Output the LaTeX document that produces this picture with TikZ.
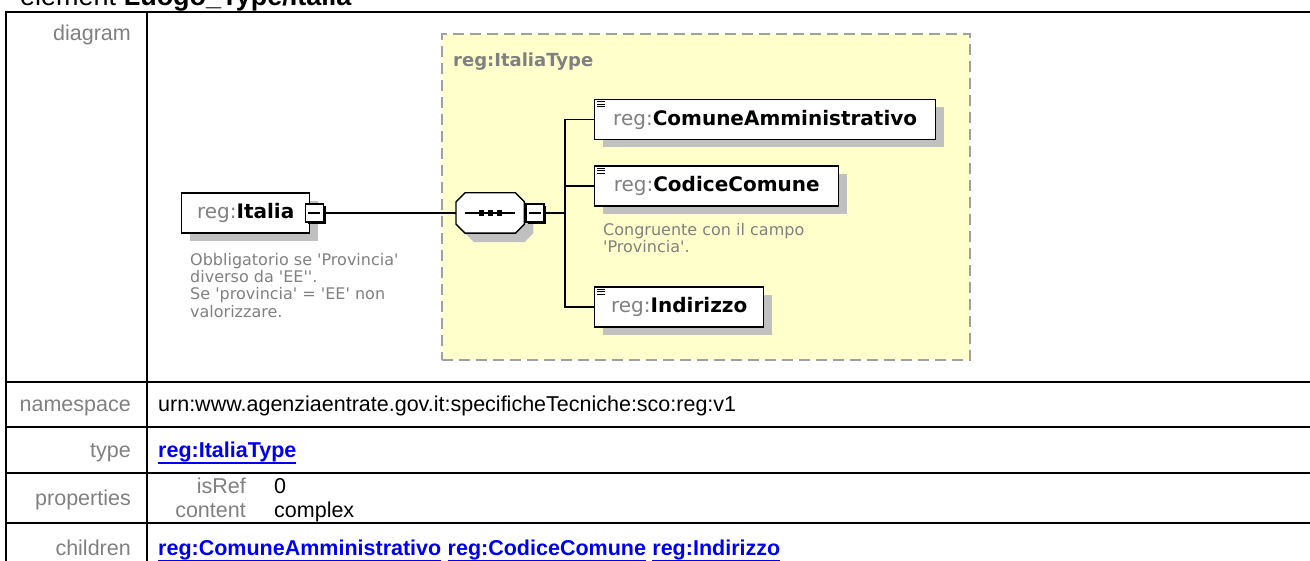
\documentclass[tikz,border=0pt]{standalone}
\usepackage{fontspec}
\setmainfont{Liberation Sans}
\newfontfamily\spyfont{DejaVu Sans}
\usetikzlibrary{positioning,shadows}

\definecolor{lblgray}{HTML}{808080}
\definecolor{linkblue}{HTML}{0000F0}
\definecolor{typefill}{HTML}{FFFFCC}
\definecolor{dashgray}{HTML}{A0A0A0}
\definecolor{shadegray}{HTML}{C0C0C0}

\newcommand\tabfont{\fontsize{21.5}{24}\selectfont}
\newcommand\spytext{\spyfont\fontsize{20}{24}\selectfont}
\newcommand\spynote{\spyfont\fontsize{16}{17.3}\selectfont}
\newcommand\regname[1]{\textcolor{lblgray}{reg:}\textbf{#1}}
\newcommand\linkul[1]{\setbox0\hbox{#1}\rlap{\rule[-6.2pt]{\wd0}{1.6pt}}\box0}
% octagon outline round a node
\newcommand\octpath[1]{([xshift=9pt]#1.north west) -- ([xshift=-9pt]#1.north east)
  -- ([yshift=-9pt]#1.north east) -- ([yshift=9pt]#1.south east)
  -- ([xshift=-9pt]#1.south east) -- ([xshift=9pt]#1.south west)
  -- ([yshift=9pt]#1.south west) -- ([yshift=-9pt]#1.north west) -- cycle}

\tikzset{
  grid line/.style={line width=2pt},
  rowlabel/.style={anchor=base east, inner sep=0pt, text=lblgray, font=\tabfont},
  rowtext/.style={anchor=base west, inner sep=0pt, font=\tabfont},
  rowlink/.style={rowtext, text=linkblue, font=\tabfont\bfseries},
  elembox/.style={draw, line width=1.4pt, fill=white, anchor=west,
    minimum height=40pt, inner xsep=4pt, font=\spytext,
    copy shadow={shadow xshift=8pt, shadow yshift=-8pt, draw=none, fill=shadegray}},
  collapse/.style={draw, line width=1.2pt, fill=white, minimum size=18pt, inner sep=0pt,
    copy shadow={shadow xshift=2.2pt, shadow yshift=-2.2pt, draw=none, fill=black}},
  seqbox/.style={minimum width=68pt, minimum height=40pt, inner sep=0pt, anchor=west},
  typebox/.style={draw=dashgray, line width=2pt, dash pattern=on 11pt off 6pt,
    fill=typefill, anchor=north west, inner sep=0pt},
  docnote/.style={anchor=north west, inner sep=0pt, align=left, text=lblgray, font=\spynote},
  wire/.style={line width=1.4pt},
  iconline/.style={line width=0.9pt},
}

\begin{document}
\begin{tikzpicture}[x=1pt, y=-1pt]
\useasboundingbox (0,0) rectangle (1310,561);
\clip (0,0) rectangle (1310,561);

% heading, cut by the page top
\node[anchor=base west, inner sep=0pt, font=\fontsize{27}{29}\selectfont] (heading)
  at (20,6) {element \textbf{Luogo\_Type/Italia}};

% table rules
\draw[grid line] (6,580) -- (6,12) -- (1320,12);
\draw[grid line] (147,12) -- (147,580);
\foreach \yy in {382,427,473,523}
  \draw[grid line] (6,\yy) -- (1320,\yy);

% left column
\node[rowlabel] (lbl-diagram) at (131,41) {diagram};
\node[rowlabel] (lbl-ns) at (131,412) {namespace};
\node[rowlabel] (lbl-type) at (131,457.5) {type};
\node[rowlabel] (lbl-props) at (131,505.5) {properties};
\node[rowlabel] (lbl-children) at (131,555.5) {children};

% right column
\node[rowtext] (ns) at (158,412) {urn:www.agenziaentrate.gov.it:specificheTecniche:sco:reg:v1};
\node[rowlink] (type) at (158,457.5) {\linkul{reg:ItaliaType}};
\node[rowlabel] (isref-k) at (246,493.5) {isRef};
\node[rowtext] (isref-v) at (274,493.5) {0};
\node[rowlabel] (content-k) at (246,517.5) {content};
\node[rowtext] (content-v) at (274,517.5) {complex};
\node[rowlink] (child-1) at (158,555.5) {\linkul{reg:ComuneAmministrativo}};
\node[rowlink, right=6pt of child-1.base east, anchor=base west] (child-2) {\linkul{reg:CodiceComune}};
\node[rowlink, right=6pt of child-2.base east, anchor=base west] (child-3) {\linkul{reg:Indirizzo}};

% type container
\node[typebox, minimum width=528pt, minimum height=326pt] (italia-type) at (441,33) {};
\node[anchor=west, inner sep=0pt, text=lblgray, font=\spyfont\fontsize{18}{20}\selectfont\bfseries]
  (italia-type-lbl) at (453,62) {reg:ItaliaType};

% elements
\node[elembox, minimum width=128pt] (italia) at (181,213) {\regname{Italia}};
\node[collapse] (italia-m) at ([xshift=4pt]italia.east) {\rule{12pt}{1.6pt}};
\node[docnote] (italia-doc) at (190,253)
  {Obbligatorio se 'Provincia'\\diverso da 'EE''.\\Se 'provincia' = 'EE' non\\valorizzare.};

\node[seqbox] (seq) at (456,213) {};
\fill[shadegray, transform canvas={shift={(9pt,-9pt)}}] \octpath{seq};
\filldraw[fill=white, line width=1.4pt] \octpath{seq};
\node[collapse, anchor=west] (seq-m) at ([xshift=1pt]seq.east) {\rule{12pt}{1.6pt}};
\coordinate (fork) at (565,213);

\node[elembox, minimum width=341pt] (comune) at (594,119.5) {\regname{ComuneAmministrativo}};
\node[elembox, minimum width=244pt] (codice) at (594,186) {\regname{CodiceComune}};
\node[docnote] (codice-doc) at (603,223) {Congruente con il campo\\'Provincia'.};
\node[elembox, minimum width=169pt] (indirizzo) at (594,307) {\regname{Indirizzo}};

% connectors
\draw[wire] (italia-m) -- (seq);
\draw[wire] (seq-m) -- (fork);
\foreach \c in {comune,codice,indirizzo}
  \draw[wire] (fork) |- (\c);

% sequence glyph and list icons
\draw[wire] ([xshift=9pt]seq.west) -- ([xshift=-9pt]seq.east);
\foreach \d in {-9,0,9}
  \fill ([xshift=\d pt]seq.center) ++(-2.7pt,-2.7pt) rectangle ++(5.4pt,5.4pt);
\foreach \c in {comune,codice,indirizzo}
  \foreach \k in {3,5.5,8}
    \draw[iconline] ([xshift=3pt,yshift=-\k pt]\c.north west) -- ++(8pt,0);

\end{tikzpicture}
\end{document}
